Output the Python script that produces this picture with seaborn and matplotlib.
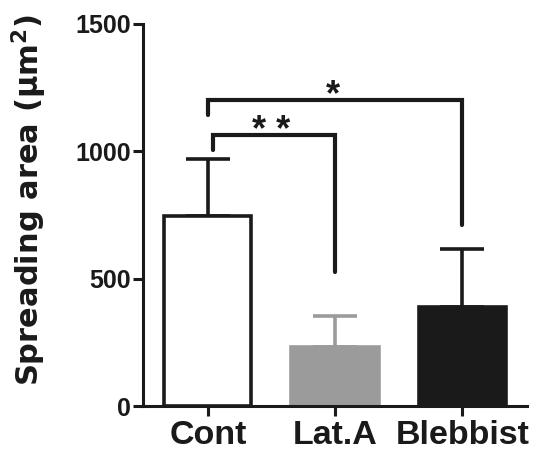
import matplotlib
matplotlib.use("Agg")
import matplotlib.pyplot as plt
import seaborn as sns
import pandas as pd

categories = ["Cont", "Lat.A", "Blebbist"]
means = [746, 232, 388]
upper_err = [224, 121, 227]
bar_colors = ["#ffffff", "#9b9b9b", "#1a1a1a"]
edge_colors = ["#1a1a1a", "#9b9b9b", "#1a1a1a"]
err_colors = ["#1a1a1a", "#9b9b9b", "#1a1a1a"]
y_ticks = [0, 500, 1000, 1500]
y_label = "Spreading area (μm$^\\mathbf{2}$)"

# significance brackets: (left idx, right idx, bar height, left leg end, right leg end, label)
brackets = [
    (0, 1, 1064, 1005, 527, "**"),
    (0, 2, 1201, 1143, 711, "*"),
]
star_baselines = [1042, 1180]

sns.set_style("ticks")
plt.rcParams["font.family"] = ["Liberation Sans", "DejaVu Sans"]
plt.rcParams["font.weight"] = "bold"
plt.rcParams["mathtext.default"] = "bf"

fig = plt.figure(figsize=(5.49, 4.61), dpi=100)
ax = fig.add_axes([0.2605, 0.1193, 0.6995, 0.8287])

df = pd.DataFrame({"cond": categories, "area": means})
sns.barplot(data=df, x="cond", y="area", order=categories, hue="cond",
            palette=bar_colors, legend=False, errorbar=None, width=0.685,
            linewidth=2.6, ax=ax)
for p, ec in zip(ax.patches, edge_colors):
    p.set_edgecolor(ec)

for i, (m, e, c) in enumerate(zip(means, upper_err, err_colors)):
    ax.errorbar(i, m, yerr=[[0], [e]], fmt="none", ecolor=c,
                elinewidth=2.6, capsize=16, capthick=2.6, zorder=0.5)

for (a, b, h, la, lb, lab), sb in zip(brackets, star_baselines):
    xa = a + (0.04 if lab == "**" else 0.0)
    ax.plot([xa, xa, b, b], [la, h, h, lb], color="#1a1a1a", lw=3.0,
            solid_joinstyle="miter", clip_on=False)
    ax.text((xa + b) / 2 - 0.02, sb, " ".join(lab) if len(lab) > 1 else lab,
            ha="center", va="baseline",
            fontsize=26, fontweight="bold", color="#1a1a1a")

ax.set_ylim(0, 1500)
ax.set_xlim(-0.51, 2.51)
ax.set_yticks(y_ticks)
ax.set_xlabel("")
ax.set_ylabel(y_label, fontsize=22, fontweight="bold", color="#1a1a1a",
              family=["DejaVu Sans"])
ax.yaxis.set_label_coords(-0.245, 0.538)
ax.tick_params(axis="y", labelsize=18, width=2.2, length=7, colors="#1a1a1a", pad=2)
ax.tick_params(axis="x", labelsize=24.5, width=2.2, length=7, colors="#1a1a1a", pad=3)
for lbl in ax.get_xticklabels() + ax.get_yticklabels():
    lbl.set_fontweight("bold")
sns.despine(ax=ax)
for s in ["left", "bottom"]:
    ax.spines[s].set_linewidth(2.2)
    ax.spines[s].set_color("#1a1a1a")

fig.savefig("out.png", dpi=100)
